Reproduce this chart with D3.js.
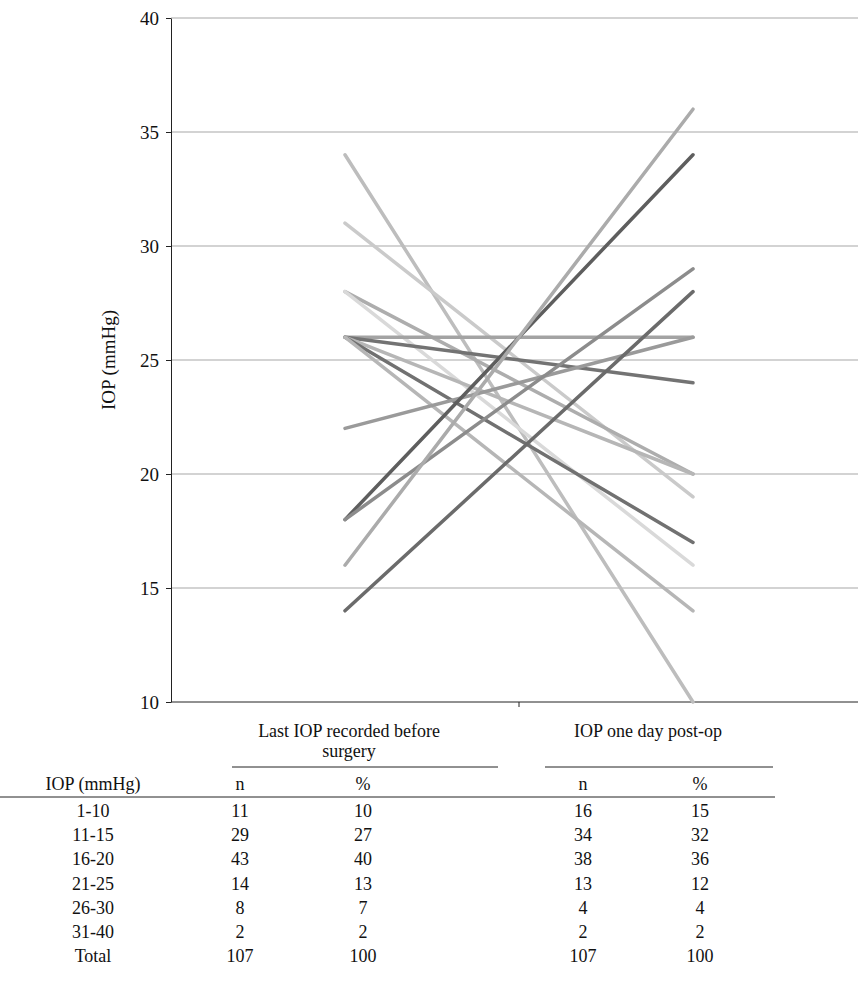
<!DOCTYPE html>
<html>
<head>
<meta charset="utf-8">
<script src="https://cdn.jsdelivr.net/npm/d3@7"></script>
<style>
  body { margin: 0; background: #fff; }
  text { font-family: "Liberation Serif", "Times New Roman", serif; fill: #111; }
</style>
</head>
<body>
<div id="vis"></div>
<script>
// line chart data: each patient's IOP before surgery and one day post-op
const categories = ["Last IOP recorded before surgery", "IOP one day post-op"];
const iopBefore = [34, 31, 28, 28, 26, 26, 26, 26, 26, 22, 18, 18, 16, 14];
const iopAfter  = [10, 19, 20, 16, 26, 24, 20, 17, 14, 26, 34, 29, 36, 28];
const lineGrays = ["#bdbdbd", "#cacaca", "#adadad", "#d9d9d9", "#a3a3a3", "#737373", "#b6b6b6",
                   "#717171", "#b6b6b6", "#9a9a9a", "#5e5e5e", "#8c8c8c", "#ababab", "#6b6b6b"];
const yTicks = [10, 15, 20, 25, 30, 35, 40];

// table data
const ranges     = ["1-10", "11-15", "16-20", "21-25", "26-30", "31-40", "Total"];
const nBefore    = [11, 29, 43, 14, 8, 2, 107];
const pctBefore  = [10, 27, 40, 13, 7, 2, 100];
const nAfter     = [16, 34, 38, 13, 4, 2, 107];
const pctAfter   = [15, 32, 36, 12, 4, 2, 100];

const W = 858, H = 1003;
const margin = {top: 18, left: 171, right: 0, bottom: 301};

const svg = d3.select("#vis")
  .append("svg")
    .attr("width", W)
    .attr("height", H);

// scales
const x = d3.scaleBand()
  .domain(categories)
  .range([margin.left, margin.left + 2 * 348])
  .padding(0);

const y = d3.scaleLinear()
  .domain([10, 40])
  .range([H - margin.bottom, margin.top]);

// gridlines
svg.append("g")
  .selectAll("line")
  .data(yTicks.filter(d => d > 10))
  .join("line")
    .attr("x1", margin.left)
    .attr("x2", W)
    .attr("y1", d => y(d))
    .attr("y2", d => y(d))
    .attr("stroke", "#c4c4c4")
    .attr("stroke-width", 1.3);

// y axis
const yAxis = svg.append("g")
  .attr("transform", `translate(${margin.left},0)`)
  .call(d3.axisLeft(y).tickValues(yTicks).tickSize(5).tickPadding(7).tickSizeOuter(0));
yAxis.select(".domain").attr("stroke", "#222");
yAxis.selectAll(".tick line").attr("stroke", "#222");
yAxis.selectAll(".tick text")
  .style("font-family", "'Liberation Serif', serif")
  .style("font-size", "19px")
  .attr("fill", "#222");

// x axis (no labels, just the line and the category boundary tick)
svg.append("line")
  .attr("x1", margin.left).attr("x2", W)
  .attr("y1", y(10)).attr("y2", y(10))
  .attr("stroke", "#222").attr("stroke-width", 1);
svg.append("line")
  .attr("x1", x(categories[1])).attr("x2", x(categories[1]))
  .attr("y1", y(10)).attr("y2", y(10) + 5)
  .attr("stroke", "#222").attr("stroke-width", 1);

// y label
svg.append("text")
  .attr("transform", `translate(115,${y(25)}) rotate(-90)`)
  .attr("text-anchor", "middle")
  .style("font-size", "19px")
  .text("IOP (mmHg)");

// patient lines
const cx = d => x(d) + x.bandwidth() / 2;
svg.append("g")
  .selectAll("line")
  .data(iopBefore.map((b, i) => ({b: b, a: iopAfter[i], c: lineGrays[i]})))
  .join("line")
    .attr("x1", cx(categories[0]))
    .attr("x2", cx(categories[1]))
    .attr("y1", d => y(d.b))
    .attr("y2", d => y(d.a))
    .attr("stroke", d => d.c)
    .attr("stroke-width", 3.5)
    .attr("stroke-linecap", "round");

// ---- table underneath ----
const colX = [93, 240, 363, 583, 700];
const rowY = d3.scalePoint().domain(ranges).range([811, 956]);

const tbl = svg.append("g").style("font-size", "18px");

tbl.append("text").attr("x", 349).attr("y", 737).attr("text-anchor", "middle").text("Last IOP recorded before");
tbl.append("text").attr("x", 349).attr("y", 757).attr("text-anchor", "middle").text("surgery");
tbl.append("text").attr("x", 648).attr("y", 737).attr("text-anchor", "middle").text("IOP one day post-op");

tbl.append("line").attr("x1", 232).attr("x2", 498).attr("y1", 767).attr("y2", 767).attr("stroke", "#222");
tbl.append("line").attr("x1", 545).attr("x2", 773).attr("y1", 767).attr("y2", 767).attr("stroke", "#222");
tbl.append("line").attr("x1", 0).attr("x2", 775).attr("y1", 797).attr("y2", 797).attr("stroke", "#222");

const header = ["IOP (mmHg)", "n", "%", "n", "%"];
tbl.selectAll(".hdr")
  .data(header)
  .join("text")
    .attr("class", "hdr")
    .attr("x", (d, i) => colX[i])
    .attr("y", 790)
    .attr("text-anchor", "middle")
    .text(d => d);

const rows = ranges.map((r, i) => [r, nBefore[i], pctBefore[i], nAfter[i], pctAfter[i]]);
tbl.selectAll(".row")
  .data(rows)
  .join("g")
    .attr("class", "row")
    .attr("transform", d => `translate(0,${rowY(d[0])})`)
  .selectAll("text")
  .data(d => d)
  .join("text")
    .attr("x", (d, i) => colX[i])
    .attr("y", 6)
    .attr("text-anchor", "middle")
    .text(d => d);
</script>
</body>
</html>
